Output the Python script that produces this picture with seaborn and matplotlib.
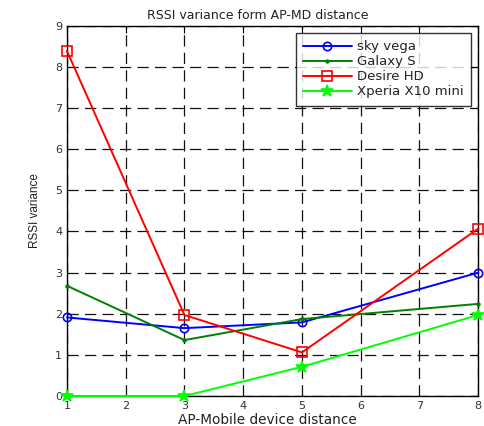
import matplotlib
matplotlib.use("Agg")
import matplotlib.pyplot as plt
import seaborn as sns
import pandas as pd

sns.set_style("white")
plt.rcParams['font.family'] = ['DejaVu Sans']

distance = [1, 3, 5, 8]
sky_vega = [1.91, 1.65, 1.79, 3.0]
galaxy_s = [2.68, 1.36, 1.87, 2.24]
desire_hd = [8.39, 1.97, 1.06, 4.07]
xperia_x10_mini = [0.0, 0.0, 0.71, 1.97]

series_names = ["sky vega", "Galaxy S", "Desire HD", "Xperia X10 mini"]
series_values = [sky_vega, galaxy_s, desire_hd, xperia_x10_mini]
colors = ["#0000ff", "#008000", "#ff0000", "#00ff00"]
markers = ["o", ".", "s", "*"]
mfcs = ["none", "#008000", "none", "#00ff00"]
msizes = [6, 4, 7, 9]

fig = plt.figure(figsize=(4.85, 4.26), dpi=100)
ax = fig.add_axes([0.138, 0.0704, 0.848, 0.869])

for name, vals, c, m, mfc, ms in zip(series_names, series_values, colors, markers, mfcs, msizes):
    df = pd.DataFrame({"d": distance, "v": vals})
    sns.lineplot(data=df, x="d", y="v", ax=ax, color=c, marker=m, markersize=ms,
                 markerfacecolor=mfc, markeredgecolor=c, markeredgewidth=1.2,
                 linewidth=1.4, label=name, clip_on=False, zorder=3)

ax.set_xlim(1, 8)
ax.set_ylim(0, 9)
ax.set_xticks(range(1, 9))
ax.set_yticks(range(0, 10))
ax.grid(True, color="#111111", linestyle=(0, (9, 5)), linewidth=0.9)
ax.tick_params(direction="in", length=5, labelsize=8, top=True, right=True, width=0.8,
               colors="black")
for lbl in ax.get_xticklabels() + ax.get_yticklabels():
    lbl.set_color("#333333")
for s in ax.spines.values():
    s.set_color("black")
    s.set_linewidth(1.0)

ax.set_title("RSSI variance form AP-MD distance", fontsize=9, pad=5, color="#222222",
             x=0.465)
ax.set_xlabel("AP-Mobile device distance", fontsize=9.8, labelpad=1, color="#222222")
ax.xaxis.set_label_coords(0.487, -0.045)
ax.set_ylabel("RSSI variance", fontsize=8.5, labelpad=10, color="#222222",
              family="Liberation Sans")

leg = ax.legend(loc="upper right", fontsize=9.5, frameon=True, fancybox=False,
                edgecolor="black", borderaxespad=0.55, handlelength=3.7,
                labelspacing=0.15, borderpad=0.55, handletextpad=0.4)
leg.get_frame().set_linewidth(1.0)
leg.set_zorder(5)
for t in leg.get_texts():
    t.set_color("#222222")

fig.savefig("out.png", dpi=100)
